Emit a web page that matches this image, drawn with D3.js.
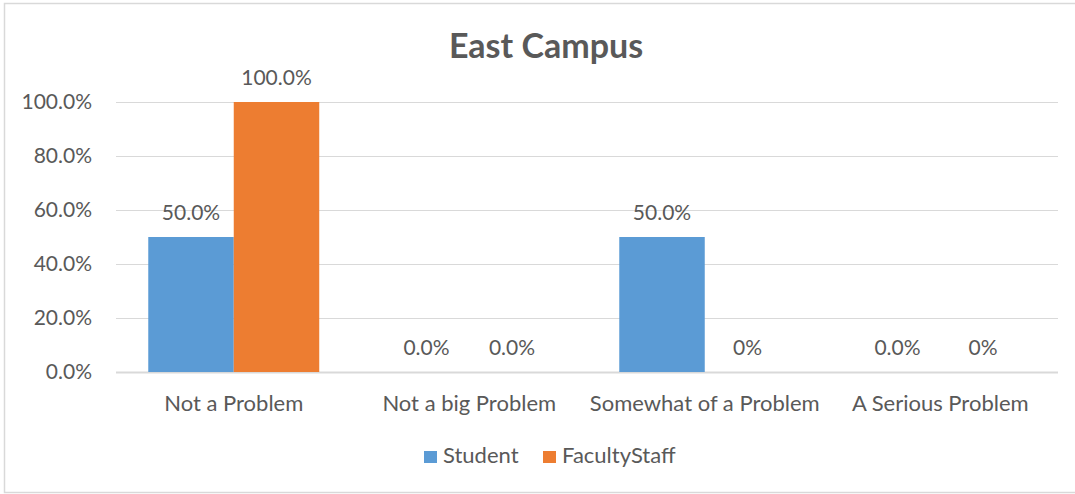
<!DOCTYPE html>
<html>
<head>
<meta charset="utf-8">
<script src="https://cdn.jsdelivr.net/npm/d3@7"></script>
<style>
  html, body { margin: 0; padding: 0; background: #fff; }
  svg { display: block; }
  text { font-family: Lato, "Open Sans", sans-serif; fill: #595959; }
</style>
</head>
<body>
<svg id="chart" width="1075" height="494"></svg>
<script>
const title = "East Campus";
const categories = ["Not a Problem", "Not a big Problem", "Somewhat of a Problem", "A Serious Problem"];
const seriesNames = ["Student", "FacultyStaff"];
const studentValues = [0.5, 0, 0.5, 0];
const facultyValues = [1.0, 0, 0, 0];
const studentLabels = ["50.0%", "0.0%", "50.0%", "0.0%"];
const facultyLabels = ["100.0%", "0.0%", "0%", "0%"];
const yTicks = [0, 0.2, 0.4, 0.6, 0.8, 1.0];
const colors = ["#5B9BD5", "#ED7D31"];

const FONT = "Lato, 'Open Sans', sans-serif";
const numSize = 21, textSize = 22;

const svg = d3.select("#chart");
const W = 1075, H = 494;
const margin = { left: 116, right: 17, top: 102, bottom: 122 };

// outer frame
svg.append("rect")
  .attr("x", 4.5).attr("y", 3.5)
  .attr("width", W + 10).attr("height", 489)
  .attr("fill", "none").attr("stroke", "#d9d9d9").attr("stroke-width", 1.5);

const x0 = d3.scaleBand()
  .domain(categories)
  .range([margin.left, W - margin.right])
  .paddingInner(0.274).paddingOuter(0.137);
const x1 = d3.scaleBand()
  .domain(seriesNames)
  .range([0, x0.bandwidth()]);
const y = d3.scaleLinear()
  .domain([0, 1])
  .range([H - margin.bottom, margin.top]);

// gridlines
svg.append("g")
  .selectAll("line")
  .data(yTicks)
  .join("line")
  .attr("x1", margin.left).attr("x2", W - margin.right)
  .attr("y1", d => Math.round(y(d)) + 0.5).attr("y2", d => Math.round(y(d)) + 0.5)
  .attr("stroke", "#d9d9d9").attr("stroke-width", d => d === 0 ? 2 : 1.2);

// y axis labels
const yAxis = d3.axisLeft(y).tickValues(yTicks).tickFormat(d3.format(".1%")).tickSize(0).tickPadding(0);
const yg = svg.append("g").attr("transform", `translate(${margin.left - 24},0)`).call(yAxis);
yg.select(".domain").remove();
yg.selectAll("text").attr("font-size", numSize).attr("fill", "#595959").attr("font-family", FONT);

// bars
const rows = categories.map((c, i) => ({
  cat: c,
  vals: [
    { s: seriesNames[0], v: studentValues[i], label: studentLabels[i] },
    { s: seriesNames[1], v: facultyValues[i], label: facultyLabels[i] }
  ]
}));

const groups = svg.append("g").selectAll("g")
  .data(rows)
  .join("g")
  .attr("transform", d => `translate(${x0(d.cat)},0)`);

groups.selectAll("rect")
  .data(d => d.vals)
  .join("rect")
  .attr("x", d => x1(d.s))
  .attr("width", x1.bandwidth())
  .attr("y", d => y(d.v))
  .attr("height", d => y(0) - y(d.v))
  .attr("fill", (d, i) => colors[i]);

groups.selectAll("text")
  .data(d => d.vals)
  .join("text")
  .attr("x", d => x1(d.s) + x1.bandwidth() / 2)
  .attr("y", d => y(d.v) - 17)
  .attr("text-anchor", "middle")
  .attr("font-size", numSize)
  .text(d => d.label);

// category labels
const xAxis = d3.axisBottom(x0).tickSize(0).tickPadding(0);
const xg = svg.append("g").attr("transform", `translate(0,${y(0) + 39})`).call(xAxis);
xg.select(".domain").remove();
xg.selectAll("text").attr("font-size", textSize).attr("fill", "#595959").attr("font-family", FONT).attr("dy", 0);

// title
svg.append("text")
  .attr("x", 546).attr("y", 58)
  .attr("text-anchor", "middle")
  .attr("font-size", 34).attr("font-weight", "bold")
  .text(title);

// legend
const legend = svg.append("g").attr("transform", "translate(424,451)");
const legendX = [0, 119];
seriesNames.forEach((s, i) => {
  legend.append("rect").attr("x", legendX[i]).attr("y", 0).attr("width", 13).attr("height", 12).attr("fill", colors[i]);
  legend.append("text").attr("x", legendX[i] + 19).attr("y", 12).attr("font-size", textSize).text(s);
});
</script>
</body>
</html>
